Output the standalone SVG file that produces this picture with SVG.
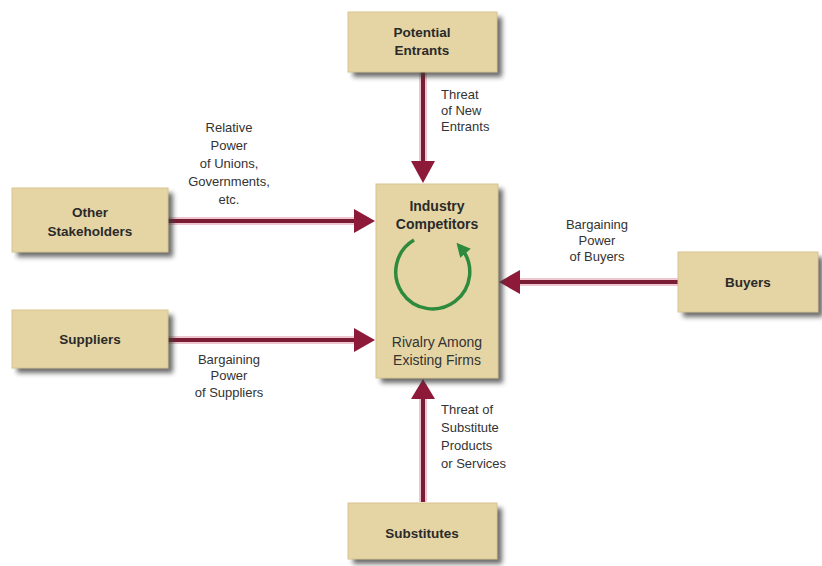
<svg xmlns="http://www.w3.org/2000/svg" width="822" height="566" viewBox="0 0 822 566">
<style>
.box{fill:#e6d5a4;stroke:#d8c48f;stroke-width:1}
.shadow{fill:#3a3a3a;opacity:0.75}
.bl{font-family:"Liberation Sans",Arial,sans-serif;font-weight:bold;font-size:13.5px;fill:#2a2a2a;text-anchor:middle}
.rg{font-family:"Liberation Sans",Arial,sans-serif;font-size:14px;fill:#333;text-anchor:middle}
.lb{font-family:"Liberation Sans",Arial,sans-serif;font-size:13px;fill:#333;}
.c{text-anchor:middle}
.glow{stroke:#edc6cf;stroke-width:8;fill:none}
.ln{stroke:#7a1c33;stroke-width:4;fill:none}
.head{fill:#8e1a3a}
</style>
<defs>
<filter id="blur" x="-20%" y="-20%" width="140%" height="140%"><feGaussianBlur stdDeviation="2.5"/></filter>
<marker id="ga" viewBox="0 0 10 10" refX="5" refY="5" markerWidth="4" markerHeight="4" orient="auto"><path d="M0,0 L10,5 L0,10 z" fill="#2e8b3e"/></marker>
</defs>
<rect width="822" height="566" fill="#ffffff"/>

<g id="connectors">
<line class="glow" x1="423" y1="72" x2="423" y2="165"/>
<line class="ln" x1="423" y1="72" x2="423" y2="165"/>
<path class="head" d="M411,161 L435,161 L423,183 z"/>

<line class="glow" x1="168" y1="221" x2="358" y2="221"/>
<line class="ln" x1="168" y1="221" x2="358" y2="221"/>
<path class="head" d="M354,209 L354,233 L375,221 z"/>

<line class="glow" x1="678" y1="282" x2="516" y2="282"/>
<line class="ln" x1="678" y1="282" x2="516" y2="282"/>
<path class="head" d="M520,270 L520,294 L499,282 z"/>

<line class="glow" x1="168" y1="340" x2="358" y2="340"/>
<line class="ln" x1="168" y1="340" x2="358" y2="340"/>
<path class="head" d="M354,328 L354,352 L375,340 z"/>

<line class="glow" x1="423" y1="502" x2="423" y2="397"/>
<line class="ln" x1="423" y1="502" x2="423" y2="397"/>
<path class="head" d="M411,399 L435,399 L423,379 z"/>
</g>

<g id="potential-entrants">
<rect class="shadow" x="353" y="17" width="149" height="60" filter="url(#blur)"/>
<rect class="box" x="348" y="12" width="149" height="60"/>
<text class="bl" x="422" y="37">Potential</text>
<text class="bl" x="422" y="55">Entrants</text>
</g>

<g id="other-stakeholders">
<rect class="shadow" x="17" y="193" width="156" height="64" filter="url(#blur)"/>
<rect class="box" x="12" y="188" width="156" height="64"/>
<text class="bl" x="90" y="217">Other</text>
<text class="bl" x="90" y="236">Stakeholders</text>
</g>

<g id="industry-competitors">
<rect class="shadow" x="381" y="189" width="122" height="194" filter="url(#blur)"/>
<rect class="box" x="376" y="184" width="122" height="194"/>
<text class="bl" x="437" y="211" style="font-size:14px">Industry</text>
<text class="bl" x="437" y="229" style="font-size:14px">Competitors</text>
<path d="M414,240 A37,37 0 1 0 461,248" fill="none" stroke="#2e8b3e" stroke-width="3.5" marker-end="url(#ga)"/>
<text class="rg" x="437" y="347">Rivalry Among</text>
<text class="rg" x="437" y="365">Existing Firms</text>
</g>

<g id="buyers">
<rect class="shadow" x="683" y="257" width="140" height="60" filter="url(#blur)"/>
<rect class="box" x="678" y="252" width="140" height="60"/>
<text class="bl" x="748" y="287">Buyers</text>
</g>

<g id="suppliers">
<rect class="shadow" x="17" y="315" width="156" height="58" filter="url(#blur)"/>
<rect class="box" x="12" y="310" width="156" height="58"/>
<text class="bl" x="90" y="344">Suppliers</text>
</g>

<g id="substitutes">
<rect class="shadow" x="353" y="508" width="149" height="56" filter="url(#blur)"/>
<rect class="box" x="348" y="503" width="149" height="56"/>
<text class="bl" x="422" y="538">Substitutes</text>
</g>

<g id="labels">
<text class="lb" x="441" y="99">Threat</text>
<text class="lb" x="441" y="115">of New</text>
<text class="lb" x="441" y="131">Entrants</text>

<text class="lb c" x="229" y="132">Relative</text>
<text class="lb c" x="229" y="150">Power</text>
<text class="lb c" x="229" y="168">of Unions,</text>
<text class="lb c" x="229" y="186">Governments,</text>
<text class="lb c" x="229" y="204">etc.</text>

<text class="lb c" x="597" y="229">Bargaining</text>
<text class="lb c" x="597" y="245">Power</text>
<text class="lb c" x="597" y="261">of Buyers</text>

<text class="lb c" x="229" y="364">Bargaining</text>
<text class="lb c" x="229" y="380">Power</text>
<text class="lb c" x="229" y="397">of Suppliers</text>

<text class="lb" x="441" y="414">Threat of</text>
<text class="lb" x="441" y="432">Substitute</text>
<text class="lb" x="441" y="450">Products</text>
<text class="lb" x="441" y="468">or Services</text>
</g>
</svg>
